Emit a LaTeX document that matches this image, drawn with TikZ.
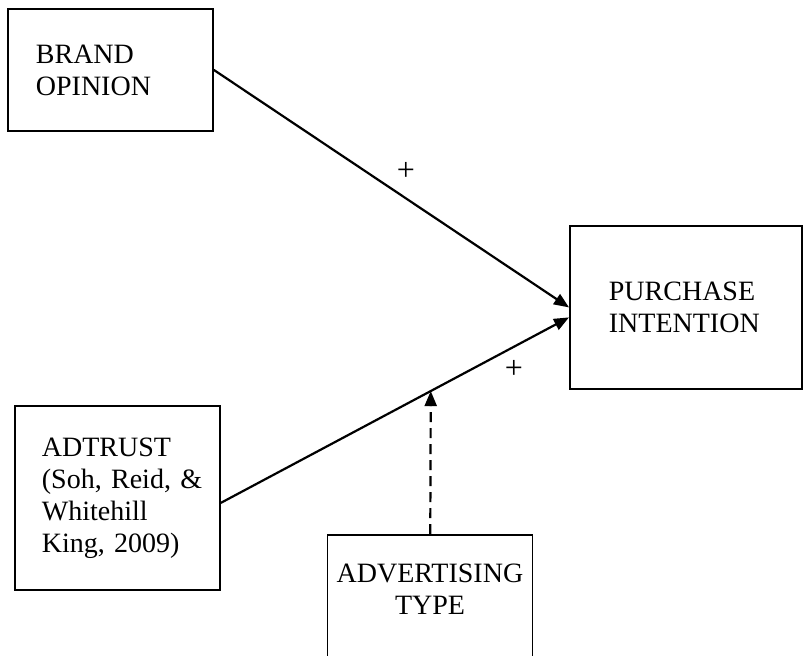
\documentclass[tikz,border=0pt]{standalone}
\usepackage{fontspec}
\setmainfont{Liberation Serif}
\usetikzlibrary{arrows.meta}

\tikzset{
  factor/.style={draw, line width=1.8pt, rectangle, align=left, anchor=north west,
    inner ysep=0pt, font=\fontsize{28}{32}\selectfont},
  effect/.style={-{Triangle[length=15pt,width=12pt]}, line width=2.2pt},
  sign/.style={inner sep=0pt, font=\fontsize{28}{32}\selectfont}
}

\begin{document}
\begin{tikzpicture}[x=1pt,y=-1pt]
	 \useasboundingbox (0,0) rectangle (804,656);
	 \clip (0,0) rectangle (804,656);
	 \node[factor, minimum width=205pt, minimum height=122pt, inner xsep=28pt, text width=149pt] (brand) at (7,8) {BRAND\\OPINION};
	 \node[factor, minimum width=232pt, minimum height=163pt, inner xsep=39pt, text width=154pt] (purchase) at (569,225) {PURCHASE\\INTENTION};
	 \node[factor, minimum width=205pt, minimum height=184pt, inner xsep=27pt, text width=151pt] (adtrust) at (14,405) {ADTRUST\\\mbox{(Soh, Reid, \&}\\Whitehill\\King, 2009)};
	 \node[factor, anchor=north, minimum width=205pt, minimum height=160pt,
	   label={[sign, align=center, anchor=north, yshift=-30pt]north:{ADVERTISING\\TYPE}}] (advtype) at (430,534) {};
	 \node[sign, font=\fontsize{32}{32}\selectfont] (plus1) at (406,171) {+};
	 \node[sign, font=\fontsize{32}{32}\selectfont] (plus2) at (514,369) {+};
	 \draw[effect] (brand.east) -- (purchase.west);
	 \draw[effect] ([yshift=-5pt]adtrust.east) -- coordinate[pos=0.603] (meet) ([yshift=-10pt]purchase.west);
	 \draw[effect, dash pattern=on 10pt off 6pt] (advtype) -- (meet);
\end{tikzpicture}
\end{document}
